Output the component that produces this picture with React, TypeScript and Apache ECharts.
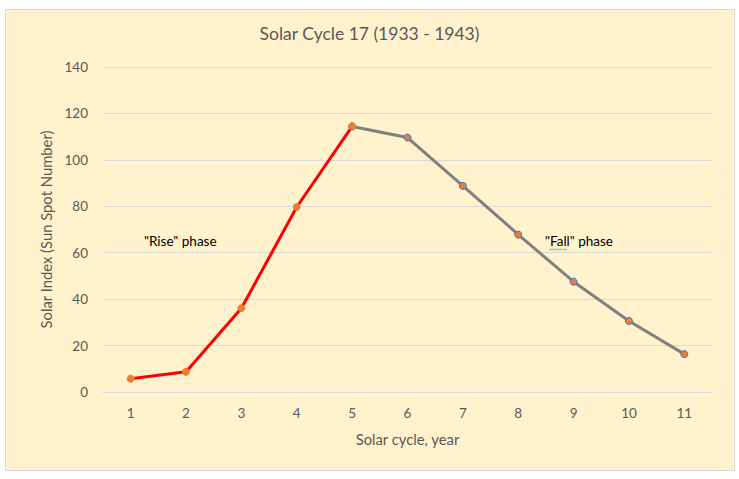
import React, { useEffect, useRef } from "react";
import * as echarts from "echarts";

const years = ["1", "2", "3", "4", "5", "6", "7", "8", "9", "10", "11"];
const riseValues = [5.7, 8.7, 36.1, 79.7, 114.4, null, null, null, null, null, null];
const fallValues = [null, null, null, null, 114.4, 109.6, 88.8, 67.8, 47.5, 30.6, 16.3];
const yTicks = { min: 0, max: 140, interval: 20 };

const FONT = "Lato, sans-serif";
const GREY = "#595959";

function squiggle(x0: number, x1: number, y: number) {
  const pts: number[][] = [];
  let up = true;
  for (let x = x0; x <= x1; x += 1.5) {
    pts.push([x, up ? y - 0.8 : y + 0.8]);
    up = !up;
  }
  return pts;
}

export default function App() {
  const ref = useRef<HTMLDivElement>(null);
  useEffect(() => {
    const chart = echarts.init(ref.current!, undefined, { renderer: "svg" });
    chart.setOption({
      animation: false,
      backgroundColor: "#ffffff",
      textStyle: { fontFamily: FONT },
      graphic: [
        {
          type: "rect",
          z: -10,
          silent: true,
          shape: { x: 5.5, y: 9.5, width: 729, height: 461 },
          style: { fill: "#FFF2CC", stroke: "#D9D9D9", lineWidth: 1 },
        },
        {
          type: "text",
          left: 144,
          top: 234,
          style: { text: '"Rise" phase', fill: "#000000", font: `13.5px ${FONT}` },
        },
        {
          type: "text",
          left: 545,
          top: 234,
          style: { text: '"Fall" phase', fill: "#000000", font: `13.5px ${FONT}` },
        },
        {
          type: "polyline",
          silent: true,
          shape: { points: squiggle(549, 567, 249.5) },
          style: { stroke: "#5FA84B", lineWidth: 0.8, fill: null },
        },
      ],
      title: {
        text: "Solar Cycle 17 (1933 - 1943)",
        left: "center",
        top: 19,
        textStyle: { fontFamily: FONT, fontSize: 17.5, fontWeight: "normal", color: GREY },
      },
      grid: { left: 103, right: 27, top: 67, bottom: 87 },
      xAxis: {
        type: "category",
        data: years,
        boundaryGap: true,
        name: "Solar cycle, year",
        nameLocation: "middle",
        nameGap: 39,
        nameTextStyle: { fontFamily: FONT, fontSize: 14.8, color: GREY },
        axisLine: { lineStyle: { color: "#D9D9D9" } },
        axisTick: { show: false },
        axisLabel: { fontFamily: FONT, fontSize: 13.5, color: GREY, margin: 14 },
      },
      yAxis: {
        type: "value",
        min: yTicks.min,
        max: yTicks.max,
        interval: yTicks.interval,
        name: "Solar Index (Sun Spot Number)",
        nameLocation: "middle",
        nameGap: 42,
        nameTextStyle: { fontFamily: FONT, fontSize: 14.8, color: GREY },
        axisLine: { show: false },
        axisTick: { show: false },
        axisLabel: { fontFamily: FONT, fontSize: 13.5, color: GREY, margin: 15 },
        splitLine: { lineStyle: { color: "#D9D9D9" } },
      },
      series: [
        {
          name: "Fall",
          type: "line",
          data: fallValues,
          z: 2,
          symbol: "circle",
          symbolSize: 7,
          lineStyle: { color: "#808080", width: 3 },
          itemStyle: { color: "#ED7D31", borderColor: "#4472C4", borderWidth: 1 },
        },
        {
          name: "Rise",
          type: "line",
          data: riseValues,
          z: 3,
          symbol: "circle",
          symbolSize: 7,
          lineStyle: { color: "#FF0000", width: 3 },
          itemStyle: { color: "#ED7D31", borderColor: "#ED7D31", borderWidth: 1 },
        },
      ],
    });
    return () => chart.dispose();
  }, []);
  return (
    <div
      ref={ref}
      style={{ position: "absolute", left: 0, top: 0, width: 739, height: 479 }}
    />
  );
}
